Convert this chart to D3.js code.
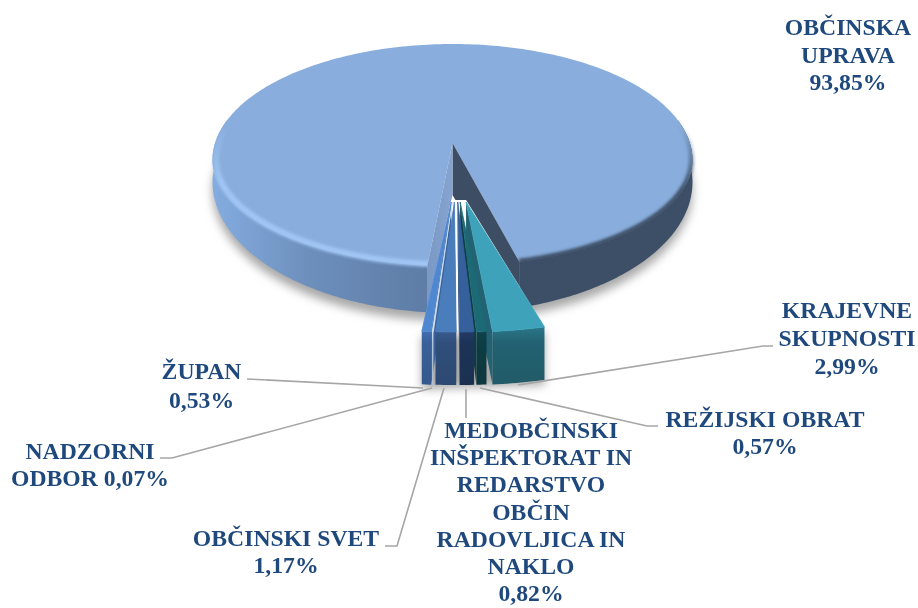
<!DOCTYPE html>
<html>
<head>
<meta charset="utf-8">
<script src="https://cdn.jsdelivr.net/npm/d3@7"></script>
<style>
  html, body { margin: 0; padding: 0; background: #fff; }
  svg { display: block; }
</style>
</head>
<body>
<div id="chart"></div>
<script>
// chart values
const sliceNames = ["OBČINSKA UPRAVA", "KRAJEVNE SKUPNOSTI", "REŽIJSKI OBRAT",
  "MEDOBČINSKI INŠPEKTORAT IN REDARSTVO OBČIN RADOVLJICA IN NAKLO",
  "OBČINSKI SVET", "NADZORNI ODBOR", "ŽUPAN"];
const sliceShares = [93.85, 2.99, 0.57, 0.82, 1.17, 0.07, 0.53];
const labelLines = [
  ["OBČINSKA", "UPRAVA", "93,85%"],
  ["KRAJEVNE", "SKUPNOSTI", "2,99%"],
  ["REŽIJSKI OBRAT", "0,57%"],
  ["MEDOBČINSKI", "INŠPEKTORAT IN", "REDARSTVO", "OBČIN", "RADOVLJICA IN", "NAKLO", "0,82%"],
  ["OBČINSKI SVET", "1,17%"],
  ["NADZORNI", "ODBOR 0,07%"],
  ["ŽUPAN", "0,53%"]
];
const topColours = ["#89aedd", "#3ca2ba", "#1d6a74", "#35609c", "#4a7dbb", "#d5e2ef", "#4f87d0"];
const wallColours = ["#5f7ea8", "#236272", "#0f3c44", "#1e3358", "#30507c", "#c5d3e2", "#39609a"];

const width = 918, height = 608;
const rad = Math.PI / 180;

// where the labels and their leader lines sit
const labelPos = [
  {x: 848, y: 35, dy: 27.5},
  {x: 847, y: 318, dy: 28},
  {x: 765, y: 427, dy: 26.5},
  {x: 531, y: 438, dy: 27.2},
  {x: 286, y: 546, dy: 27},
  {x: 90, y: 459, dy: 27},
  {x: 201.5, y: 379, dy: 28.5}
];
const leaders = [
  [[773, 346], [763, 346], [518, 385]],
  [[480, 388], [647, 426], [658, 426]],
  [[466, 389], [466, 418]],
  [[444, 388], [397, 546], [385, 546]],
  [[432, 388], [172, 458], [160, 458]],
  [[247, 379], [423, 388]]
];

const svg = d3.select("#chart").append("svg")
  .attr("width", width)
  .attr("height", height);

const defs = svg.append("defs");
function blur(id, amount) {
  defs.append("filter").attr("id", id)
    .attr("filterUnits", "userSpaceOnUse")
    .attr("x", 0).attr("y", 0).attr("width", width).attr("height", height)
    .append("feGaussianBlur").attr("stdDeviation", amount);
}
blur("soft", 5);
blur("bevelBlur", 1.6);
blur("photo", 0.55);

function gradient(id, x1, y1, x2, y2, stops) {
  const g = defs.append("linearGradient").attr("id", id)
    .attr("gradientUnits", "userSpaceOnUse")
    .attr("x1", x1).attr("y1", y1).attr("x2", x2).attr("y2", y2);
  stops.forEach(s => g.append("stop").attr("offset", s[0]).attr("stop-color", s[1]).attr("stop-opacity", s[2] === undefined ? 1 : s[2]));
}
gradient("leftWall", 213, 0, 425, 0, [[0, "#84ace0"], [0.45, "#6d8fbc"], [1, "#5e7da6"]]);
gradient("leftBevel", 0, 125, 0, 185, [[0, "#a0c6f5", 0], [1, "#a0c6f5", 1]]);
gradient("rightBevel", 0, 125, 0, 190, [[0, "#3c4f66", 0], [1, "#3c4f66", 1]]);
gradient("cutWall", 423, 0, 452, 0, [[0, "#7796c2"], [1, "#86a4cf"]]);
wallColours.forEach((c, i) => gradient("smallWall" + i, 0, 328, 0, 385,
  [[0, d3.color(c).brighter(0.5).formatHex()], [0.25, c], [1, d3.color(c).darker(0.25).formatHex()]]));

// d3.pie gives the angles, clockwise from the front of the cut
const pie = d3.pie().sort(null).startAngle(186 * rad).endAngle(546 * rad);
const slices = pie(sliceShares);
const big = slices[0];
const smalls = slices.slice(1);

// big slice: flattened disc, a bit deeper at the front because of perspective
const disc = {cx: 452.5, cy: 160, rx: 240, ryBack: 116, ryFront: 106};
const discX = a => disc.cx + disc.rx * Math.sin(a);
const discY = a => disc.cy - (Math.cos(a) > 0 ? disc.ryBack : disc.ryFront) * Math.cos(a);
const discDepth = a => 22 + 25 * Math.max(0, -Math.cos(a));
const apex = {x: 452.5, y: 143, depth: 52};

const line = d3.line();
function samples(a0, a1) {
  const n = Math.max(2, Math.ceil(Math.abs(a1 - a0) / (1 * rad)));
  return d3.range(n + 1).map(i => a0 + (a1 - a0) * i / n);
}

const arcTop = (a0, a1, k = 1) => samples(a0, a1).map(a =>
  [disc.cx + (discX(a) - disc.cx) * k, disc.cy + (discY(a) - disc.cy) * k]);
const arcBottom = (a0, a1) => samples(a0, a1).map(a => [discX(a), discY(a) + discDepth(a)]);

// exploded small slices: own centre and radius, pushed along their middle angle
const blown = {cx: 456, tipY: 202, push: 54, rx: 282, ry: 130, depth: 53};
const midAngle = d => (d.startAngle + d.endAngle) / 2;
const tipX = d => blown.cx + blown.push * Math.sin(midAngle(d));
const smallRim = (d, a) => [tipX(d) + blown.rx * Math.sin(a), blown.tipY - blown.ry * Math.cos(a)];

const rightEnd = big.endAngle - 2 * Math.PI;  // right side of the cut
const leftEnd = big.startAngle;               // left side of the cut

const firstSmall = smalls[0], lastSmall = smalls[smalls.length - 1];
const rimRight = smallRim(firstSmall, firstSmall.startAngle);
const rimLeft = smallRim(lastSmall, lastSmall.endAngle);

// ground shadows
const shadow = svg.append("g").attr("filter", "url(#soft)").attr("fill", "#a8a8a8");
shadow.append("path")
  .attr("d", line(arcBottom(leftEnd, 290 * rad).concat(arcBottom(70 * rad, rightEnd).reverse())) + "Z")
  .attr("transform", "translate(0,8)");
shadow.append("path")
  .attr("d", line([rimRight, [rimRight[0], rimRight[1] + blown.depth], [rimLeft[0], rimLeft[1] + blown.depth], rimLeft]) + "Z")
  .attr("transform", "translate(0,5)");

const pieG = svg.append("g").attr("filter", "url(#photo)");

// outer walls of the big slice
pieG.append("path")
  .attr("d", line(arcTop(leftEnd, 290 * rad).concat(arcBottom(leftEnd, 290 * rad).reverse())) + "Z")
  .attr("fill", "url(#leftWall)");
pieG.append("path")
  .attr("d", line(arcTop(70 * rad, rightEnd).concat(arcBottom(70 * rad, rightEnd).reverse())) + "Z")
  .attr("fill", "#3c4f66");

// top face
pieG.append("path")
  .attr("d", line([[apex.x, apex.y]].concat(arcTop(big.startAngle, big.endAngle))) + "Z")
  .attr("fill", topColours[0]);

// rim bevel
pieG.append("path")
  .attr("d", line(arcTop(leftEnd - 1 * rad, 300 * rad, 0.985)))
  .attr("fill", "none")
  .attr("stroke", "url(#leftBevel)")
  .attr("stroke-width", 6)
  .attr("filter", "url(#bevelBlur)");
pieG.append("path")
  .attr("d", line(arcTop(58 * rad, rightEnd, 0.995)))
  .attr("fill", "none")
  .attr("stroke", "url(#rightBevel)")
  .attr("stroke-width", 5)
  .attr("filter", "url(#bevelBlur)");

// walls of the cut, dark one on the right, pale one on the left
const rightRim = [discX(rightEnd), discY(rightEnd)];
const leftRim = [discX(leftEnd), discY(leftEnd)];
pieG.append("path")
  .attr("d", line([[apex.x, apex.y], rightRim, [rightRim[0], rightRim[1] + discDepth(rightEnd)], [apex.x, apex.y + apex.depth]]) + "Z")
  .attr("fill", "#3c4d64");
pieG.append("path")
  .attr("d", line([[apex.x, apex.y], leftRim, [leftRim[0], leftRim[1] + discDepth(leftEnd)], [apex.x, apex.y + apex.depth]]) + "Z")
  .attr("fill", "url(#cutWall)");

// white behind the small slices so the gaps between them stay open
pieG.append("path")
  .attr("d", line([[tipX(lastSmall), blown.tipY - 2], [tipX(firstSmall), blown.tipY - 2], rimRight, rimLeft]) + "Z")
  .attr("fill", "#fff");

// small slices: all side walls and front walls first, top faces over them
pieG.selectAll(".side")
  .data(smalls.filter(d => d.value > 0.1))
  .join("path")
  .attr("class", "side")
  .attr("d", d => {
    // the side that faces the viewer is the one turned towards the middle
    const a = Math.sin(midAngle(d)) > 0 ? d.endAngle : d.startAngle;
    const r = smallRim(d, a), tip = [tipX(d), blown.tipY];
    return line([tip, r, [r[0], r[1] + blown.depth], [tip[0], tip[1] + blown.depth]]) + "Z";
  })
  .attr("fill", d => midAngle(d) < 175 * rad ? topColours[2] : wallColours[slices.indexOf(d)]);

pieG.selectAll(".front")
  .data(smalls)
  .join("path")
  .attr("class", "front")
  .attr("d", d => {
    const top = samples(d.startAngle, d.endAngle).map(a => smallRim(d, a));
    const bottom = top.map(p => [p[0], p[1] + blown.depth]).reverse();
    return line(top.concat(bottom)) + "Z";
  })
  .attr("fill", d => `url(#smallWall${slices.indexOf(d)})`);

pieG.selectAll(".top")
  .data(smalls)
  .join("path")
  .attr("class", "top")
  .attr("d", d => line([[tipX(d), blown.tipY]].concat(samples(d.startAngle, d.endAngle).map(a => smallRim(d, a)))) + "Z")
  .attr("fill", d => topColours[slices.indexOf(d)])
  .attr("stroke", d => topColours[slices.indexOf(d)])
  .attr("stroke-width", 0.8)
  .attr("stroke-linejoin", "round");

// leader lines
svg.selectAll(".leader")
  .data(leaders)
  .join("path")
  .attr("class", "leader")
  .attr("d", d => line(d))
  .attr("fill", "none")
  .attr("stroke", "#a6a6a6")
  .attr("stroke-width", 1.6);

// labels
const labels = svg.selectAll(".label")
  .data(labelLines)
  .join("text")
  .attr("class", "label")
  .attr("text-anchor", "middle")
  .style("font-family", "'Liberation Serif', serif")
  .style("font-weight", "bold")
  .style("font-size", "23.7px")
  .style("fill", "#1f497d");

labels.selectAll("tspan")
  .data((d, i) => d.map((t, j) => ({t, x: labelPos[i].x, y: labelPos[i].y + j * labelPos[i].dy})))
  .join("tspan")
  .attr("x", d => d.x)
  .attr("y", d => d.y)
  .text(d => d.t);
</script>
</body>
</html>
